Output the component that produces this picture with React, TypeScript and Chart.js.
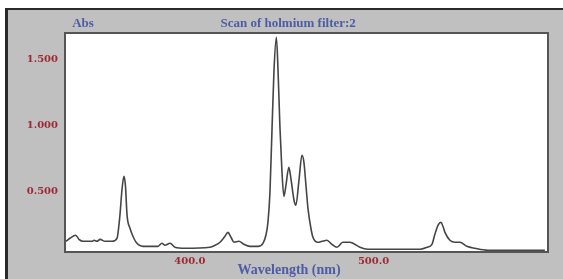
import React, { useEffect, useRef } from "react";
import { Chart, registerables } from "chart.js";

Chart.register(...registerables);

const wavelengths = [
  332.5, 334.7, 337.8, 339.6, 341.8, 346.7, 347.8, 349.4, 351.1, 353.8, 357.6,
  360.3, 361.9, 363.0, 364.1, 364.9, 365.8, 367.4, 369.0, 370.7, 374.5, 382.6,
  384.8, 386.4, 389.2, 391.9, 397.3, 410.9, 413.7, 416.4, 419.1, 420.7, 422.4,
  424.0, 426.7, 429.4, 432.7, 437.1, 439.8, 441.4, 442.5, 443.6, 444.7, 445.8,
  447.1, 448.0, 449.0, 450.1, 451.2, 452.3, 453.9, 455.0, 456.7, 457.7, 459.4,
  461.0, 462.1, 463.2, 464.3, 465.9, 467.0, 469.7, 471.9, 474.6, 477.3, 480.1,
  483.3, 487.1, 488.8, 492.6, 496.9, 525.3, 529.1, 531.8, 533.4, 535.1, 536.7,
  537.8, 538.9, 541.6, 544.4, 547.0, 550.8, 555.2, 562.3, 593.3,
];
const absorbance = [
  0.121, 0.144, 0.167, 0.136, 0.121, 0.121, 0.129, 0.121, 0.136, 0.121, 0.121,
  0.144, 0.318, 0.508, 0.614, 0.545, 0.318, 0.22, 0.159, 0.114, 0.083, 0.083,
  0.106, 0.091, 0.106, 0.076, 0.068, 0.076, 0.091, 0.114, 0.159, 0.189, 0.152,
  0.114, 0.121, 0.098, 0.083, 0.083, 0.106, 0.167, 0.265, 0.492, 0.962, 1.417,
  1.667, 1.417, 1.0, 0.659, 0.462, 0.545, 0.682, 0.598, 0.432, 0.394, 0.583,
  0.773, 0.72, 0.545, 0.371, 0.22, 0.152, 0.114, 0.121, 0.129, 0.098, 0.076,
  0.114, 0.114, 0.106, 0.076, 0.061, 0.061, 0.076, 0.098, 0.174, 0.242, 0.265,
  0.235, 0.189, 0.129, 0.114, 0.114, 0.083, 0.068, 0.053, 0.053,
];
const xTickValues = [400, 500];
const yTickValues = [0.5, 1.0, 1.5];
const chartTitle = "Scan of holmium filter:2";
const yAxisLabel = "Abs";
const xAxisLabel = "Wavelength (nm)";

const RED = "#9e2834";
const BLUE = "#4d5ca6";
const SERIF = "'Liberation Serif', 'DejaVu Serif', serif";
const TICK_SERIF = "'DejaVu Serif', serif";

const framePlugin = {
  id: "framePlugin",
  beforeDraw(chart: any) {
    const { ctx, chartArea } = chart;
    ctx.save();
    ctx.fillStyle = "#ffffff";
    ctx.fillRect(chartArea.left, chartArea.top, chartArea.right - chartArea.left, chartArea.bottom - chartArea.top);
    ctx.restore();
  },
  afterDraw(chart: any) {
    const { ctx, chartArea } = chart;
    const { left, top, right, bottom } = chartArea;
    ctx.save();
    ctx.strokeStyle = "#555555";
    ctx.lineWidth = 2;
    ctx.strokeRect(left, top, right - left, bottom - top);
    ctx.fillStyle = BLUE;
    ctx.font = `bold 13px ${SERIF}`;
    ctx.textAlign = "center";
    ctx.textBaseline = "middle";
    ctx.fillText(yAxisLabel, left + 18, top - 9);
    ctx.fillText(chartTitle, left + (right - left) * 0.462, top - 9);
    ctx.font = `bold 14px ${SERIF}`;
    ctx.fillText(xAxisLabel, left + (right - left) * 0.464, bottom + 18);
    ctx.restore();
  },
};

export default function App() {
  const canvasRef = useRef<HTMLCanvasElement | null>(null);

  useEffect(() => {
    if (!canvasRef.current) return;
    const points = wavelengths.map((x, i) => ({ x, y: absorbance[i] }));
    const chart = new Chart(canvasRef.current, {
      type: "line",
      data: {
        datasets: [
          {
            data: points,
            borderColor: "#454545",
            borderWidth: 1.6,
            pointRadius: 0,
            cubicInterpolationMode: "monotone",
            fill: false,
          },
        ],
      },
      options: {
        animation: false,
        responsive: false,
        layout: { padding: { left: 0, top: 33, right: 15, bottom: 0 } },
        plugins: {
          legend: { display: false },
          tooltip: { enabled: false },
          title: { display: false },
        },
        scales: {
          x: {
            type: "linear",
            min: 332,
            max: 595,
            grid: { display: false, drawTicks: false },
            border: { display: false },
            afterBuildTicks: (scale: any) => {
              scale.ticks = xTickValues.map((value) => ({ value }));
            },
            afterFit: (scale: any) => {
              scale.height = 27;
            },
            ticks: {
              color: RED,
              padding: 3,
              maxRotation: 0,
              font: { family: TICK_SERIF, weight: "bold", size: 10 },
              callback: (v: any) => Number(v).toFixed(1),
            },
          },
          y: {
            type: "linear",
            min: 0.04,
            max: 1.7,
            grid: { display: false, drawTicks: false },
            border: { display: false },
            afterBuildTicks: (scale: any) => {
              scale.ticks = yTickValues.map((value) => ({ value }));
            },
            afterFit: (scale: any) => {
              scale.width = 65;
            },
            ticks: {
              color: RED,
              padding: 7,
              font: { family: TICK_SERIF, weight: "bold", size: 10 },
              callback: (v: any) => Number(v).toFixed(3),
            },
          },
        },
      },
      plugins: [framePlugin],
    } as any);
    return () => chart.destroy();
  }, []);

  return (
    <div style={{ position: "absolute", left: 0, top: 0, width: 563, height: 279, background: "#ffffff", overflow: "hidden" }}>
      <div
        style={{
          position: "absolute",
          left: 5,
          top: 8,
          width: 558,
          height: 271,
          boxSizing: "border-box",
          background: "#c0c0c0",
          borderTop: "2px solid #2a2a2a",
          borderLeft: "3px solid #2a2a2a",
        }}
      />
      <canvas ref={canvasRef} width={563} height={279} style={{ position: "absolute", left: 0, top: 0 }} />
    </div>
  );
}
